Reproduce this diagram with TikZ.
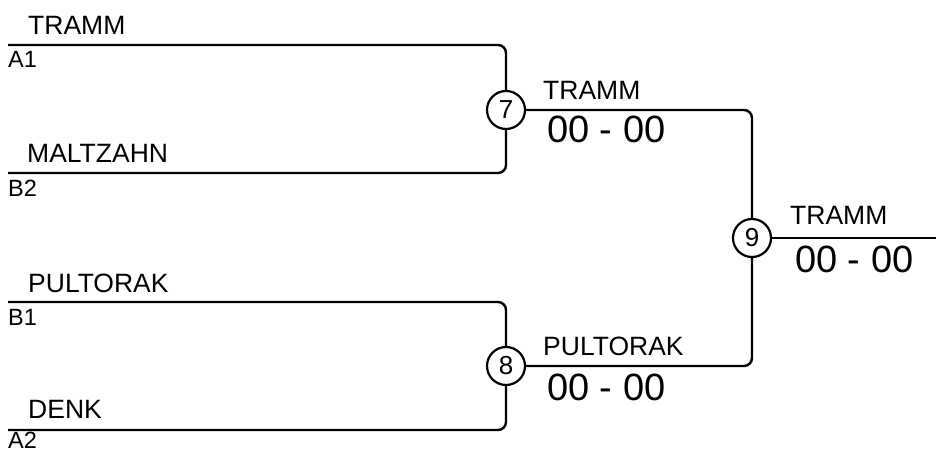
\documentclass[tikz,border=0pt]{standalone}
\usepackage{fontspec}
\setmainfont{Liberation Sans}
\usetikzlibrary{positioning}
\tikzstyle{seed} = [anchor=base west, inner sep=0pt, font=\fontsize{23.5}{26}\selectfont]
\tikzstyle{player} = [anchor=base west, inner sep=0pt, font=\fontsize{26.5}{30}\selectfont]
\tikzstyle{score} = [anchor=base west, inner sep=0pt, font=\fontsize{38}{42}\selectfont]
\tikzstyle{match} = [circle, draw=black, line width=2.2pt, minimum size=38pt, inner sep=0pt, font=\fontsize{26}{30}\selectfont]
\tikzstyle{line} = [line width=2.4pt, rounded corners=8pt]
\begin{document}
\begin{tikzpicture}
[x=1pt, y=-1pt]
\useasboundingbox (0,0) rectangle (936,454);

\node (m7) [match] at (506,110) {7};
\node (m8) [match] at (506,366) {8};
\node (m9) [match] at (752,238) {9};

\coordinate (a1) at (8,45);
\coordinate (b2) at (8,173);
\coordinate (b1) at (8,302);
\coordinate (a2) at (8,430);
\coordinate (out) at (936,238);

\draw [line] (a1) -| (m7);
\draw [line] (b2) -| (m7);
\draw [line] (b1) -| (m8);
\draw [line] (a2) -| (m8);
\draw [line] (m7) -| (m9);
\draw [line] (m8) -| (m9);
\draw [line] (m9) -- (out);

\node (nA1) [player] at (28,35) {TRAMM};
\node (sA1) [seed] at (8,68) {A1};
\node (nB2) [player] at (27,163) {MALTZAHN};
\node (sB2) [seed] at (8,197) {B2};
\node (nB1) [player] at (28,292) {PULTORAK};
\node (sB1) [seed] at (8,325) {B1};
\node (nA2) [player] at (28,418) {DENK};
\node (sA2) [seed] at (8,448) {A2};

\node (w7) [player] at (543,100) {TRAMM};
\node (r7) [score] at (547,143) {00 - 00};
\node (w8) [player] at (543,355) {PULTORAK};
\node (r8) [score] at (547,400) {00 - 00};
\node (w9) [player] at (790,225) {TRAMM};
\node (r9) [score] at (795,272) {00 - 00};

\end{tikzpicture}
\end{document}
